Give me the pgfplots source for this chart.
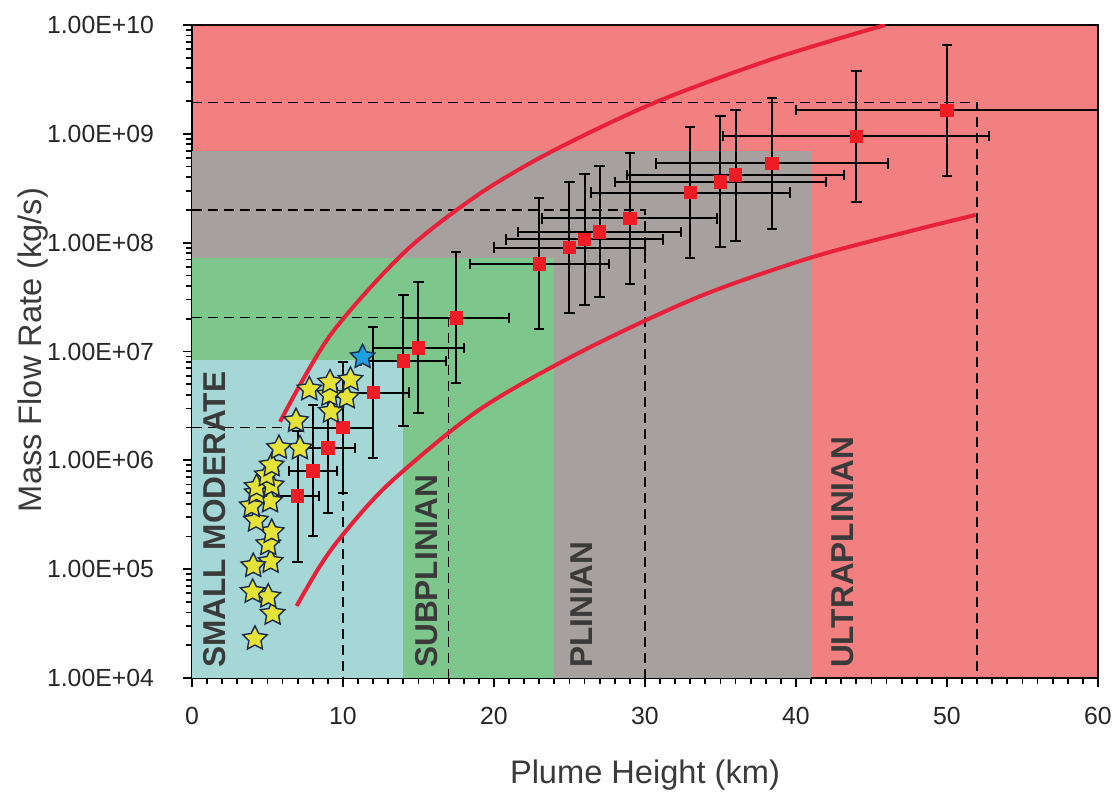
\documentclass[border=0pt]{standalone}
\usepackage{pgfplots}
\pgfplotsset{compat=1.18}
\usepackage{pgfplotstable}
\usepackage{fontspec}
\setmainfont{Liberation Sans}

\definecolor{bgred}{HTML}{F28080}
\definecolor{bggray}{HTML}{A6A09F}
\definecolor{bggreen}{HTML}{7DC78C}
\definecolor{bgcyan}{HTML}{A5D7D7}
\definecolor{curvered}{HTML}{E8203A}
\definecolor{ptred}{HTML}{EE1C25}
\definecolor{staryellow}{HTML}{E5E337}
\definecolor{starblue}{HTML}{1E9FE0}
\definecolor{staredge}{HTML}{1C2B4A}
\definecolor{txtgray}{HTML}{3A3A3A}

% filled five-point star
\pgfdeclareplotmark{fstar}{%
  \pgfpathmoveto{\pgfpointpolar{90}{\pgfplotmarksize}}%
  \pgfpathlineto{\pgfpointpolar{126}{0.5\pgfplotmarksize}}%
  \pgfpathlineto{\pgfpointpolar{162}{\pgfplotmarksize}}%
  \pgfpathlineto{\pgfpointpolar{198}{0.5\pgfplotmarksize}}%
  \pgfpathlineto{\pgfpointpolar{234}{\pgfplotmarksize}}%
  \pgfpathlineto{\pgfpointpolar{270}{0.5\pgfplotmarksize}}%
  \pgfpathlineto{\pgfpointpolar{306}{\pgfplotmarksize}}%
  \pgfpathlineto{\pgfpointpolar{342}{0.5\pgfplotmarksize}}%
  \pgfpathlineto{\pgfpointpolar{18}{\pgfplotmarksize}}%
  \pgfpathlineto{\pgfpointpolar{54}{0.5\pgfplotmarksize}}%
  \pgfpathclose
  \pgfusepathqfillstroke}

% eruptions with error bars: height, mass flow rate, +-height, +rate, -rate
\pgfplotstableread{
x    y       xe    yp       ym
7    4.7e5   1.4   1.41e6   3.53e5
8    8.0e5   1.6   2.4e6    6.0e5
9    1.3e6   1.8   3.9e6    9.75e5
10   2.0e6   2.0   6.0e6    1.5e6
12   4.2e6   2.4   1.26e7   3.15e6
14   8.2e6   2.8   2.46e7   6.15e6
15   1.08e7  3.0   3.24e7   8.1e6
17.5 2.04e7  3.5   6.12e7   1.53e7
23   6.4e7   4.6   1.92e8   4.8e7
25   9.0e7   5.0   2.7e8    6.75e7
26   1.07e8  5.2   3.21e8   8.03e7
27   1.26e8  5.4   3.78e8   9.45e7
29   1.67e8  5.8   5.01e8   1.25e8
33   2.88e8  6.6   8.64e8   2.16e8
35   3.63e8  7.0   1.09e9   2.72e8
36   4.18e8  7.2   1.25e9   3.14e8
38.4 5.36e8  7.7   1.61e9   4.02e8
44   9.5e8   8.8   2.85e9   7.13e8
50   1.65e9  10.0  4.95e9   1.24e9
}\eruptions

% small eruptions (stars)
\pgfplotstableread{
x     y
4.17  2.3e4
5.34  3.9e4
5.05  5.6e4
4.02  6.2e4
5.21  1.17e5
4.06  1.07e5
5.05  1.7e5
5.28  2.2e5
4.24  2.8e5
5.17  4.2e5
3.95  3.8e5
4.28  5.0e5
4.28  5.7e5
5.28  5.9e5
4.95  7.3e5
5.28  9.0e5
7.15  1.29e6
5.76  1.3e6
6.89  2.3e6
9.2   2.8e6
10.25 3.8e6
9.1   4.0e6
7.77  4.5e6
9.14  5.2e6
10.5  5.5e6
}\stars

\begin{document}
\begin{tikzpicture}
\begin{axis}[
  scale only axis, width=453pt, height=326.5pt,
  xmin=0, xmax=60, ymin=1e4, ymax=1e10, ymode=log,
  xtick={0,10,...,60}, minor x tick num=9,
  ytick={1e4,1e5,1e6,1e7,1e8,1e9,1e10},
  yticklabels={1.00E+04,1.00E+05,1.00E+06,1.00E+07,1.00E+08,1.00E+09,1.00E+10},
  minor ytick={2e4,3e4,4e4,5e4,6e4,7e4,8e4,9e4,
    2e5,3e5,4e5,5e5,6e5,7e5,8e5,9e5,
    2e6,3e6,4e6,5e6,6e6,7e6,8e6,9e6,
    2e7,3e7,4e7,5e7,6e7,7e7,8e7,9e7,
    2e8,3e8,4e8,5e8,6e8,7e8,8e8,9e8,
    2e9,3e9,4e9,5e9,6e9,7e9,8e9,9e9},
  tick align=outside, tick pos=left,
  major tick length=4.5pt, minor tick length=3pt,
  tick style={black, line width=0.9pt},
  axis line style={black, line width=0.9pt},
  axis background/.style={fill=bgred},
  ticklabel style={font=\fontsize{12.4}{14}\selectfont, text=black!85},
  /pgf/number format/assume math mode=true,
  yticklabel style={xshift=-11pt},
  xticklabel style={yshift=-6.5pt},
  xlabel={Plume Height (km)},
  ylabel={Mass Flow Rate (kg/s)},
  label style={font=\fontsize{16.3}{19}\selectfont, text=txtgray},
  xlabel style={at={(axis description cs:0.5,-0.1485)}, anchor=center},
  ylabel style={at={(axis description cs:-0.1755,0.5023)}, anchor=center},
]
% regimes
\addplot[draw=none, fill=bggray] coordinates {(0,1e4) (41,1e4) (41,6.9e8) (0,6.9e8)} -- cycle;
\addplot[draw=none, fill=bggreen] coordinates {(0,1e4) (24,1e4) (24,7.2e7) (0,7.2e7)} -- cycle;
\addplot[draw=none, fill=bgcyan] coordinates {(0,1e4) (14,1e4) (14,8.3e6) (0,8.3e6)} -- cycle;

% thresholds
\addplot[black, line width=0.7pt, dash pattern=on 5pt off 3pt] coordinates {(0,2e6) (10,2e6) (10,1e4)};
\addplot[black, line width=0.7pt, dash pattern=on 5pt off 3pt] coordinates {(0,2.05e7) (17,2.05e7) (17,1e4)};
\addplot[black, line width=0.7pt, dash pattern=on 5pt off 3pt] coordinates {(0,2e8) (30,2e8) (30,1e4)};
\addplot[black, line width=0.7pt, dash pattern=on 5pt off 3pt] coordinates {(0,1.95e9) (52,1.95e9) (52,1e4)};

% bounds
\addplot[curvered, line width=2pt, smooth] coordinates {
  (5.83,2.26e6) (9.14,1.4e7) (14.04,8.1e7) (18.94,2.75e8) (23.84,6.9e8)
  (30.7,1.95e9) (38.5,4.9e9) (45.9,1.0e10)};
\addplot[curvered, line width=2pt, smooth] coordinates {
  (6.93,4.6e4) (8.48,1.07e5) (10.02,2.1e5) (13.1,6.2e5) (19,2.9e6)
  (25.8,1.0e7) (33.6,3.2e7) (41,7.3e7) (47.5,1.27e8) (51.9,1.8e8)};

% data
\addplot[only marks, mark=square*, mark size=3.1pt, mark options={ptred, fill=ptred},
  error bars/.cd, x dir=both, x explicit, y dir=both, y explicit,
  error bar style={black, line width=1pt},
  error mark options={rotate=90, black, line width=1pt, mark size=2.6pt}]
  table[x=x, y=y, x error=xe, y error plus=yp, y error minus=ym] {\eruptions};
\addplot[only marks, mark=fstar, mark size=6.4pt,
  mark options={fill=staryellow, draw=staredge, line width=0.7pt}]
  table[x=x, y=y] {\stars};
\addplot[only marks, mark=fstar, mark size=6.4pt,
  mark options={fill=starblue, draw=staredge, line width=0.7pt}]
  coordinates {(11.3,8.9e6)};

\node[rotate=90, anchor=west, inner sep=0, text=txtgray,
  font=\bfseries\fontsize{15.8}{18}\selectfont] at (axis cs:1.5,1.23e4) {SMALL MODERATE};
\node[rotate=90, anchor=west, inner sep=0, text=txtgray,
  font=\bfseries\fontsize{15.8}{18}\selectfont] at (axis cs:15.55,1.23e4) {SUBPLINIAN};
\node[rotate=90, anchor=west, inner sep=0, text=txtgray,
  font=\bfseries\fontsize{15.8}{18}\selectfont] at (axis cs:25.8,1.23e4) {PLINIAN};
\node[rotate=90, anchor=west, inner sep=0, text=txtgray,
  font=\bfseries\fontsize{15.8}{18}\selectfont] at (axis cs:43.1,1.23e4) {ULTRAPLINIAN};

\coordinate (bbsw) at (rel axis cs:-0.2119,-0.1838);
\coordinate (bbne) at (rel axis cs:1.0210,1.0383);
\end{axis}
\pgfresetboundingbox
\path[use as bounding box] (bbsw) rectangle (bbne);
\end{tikzpicture}
\end{document}
